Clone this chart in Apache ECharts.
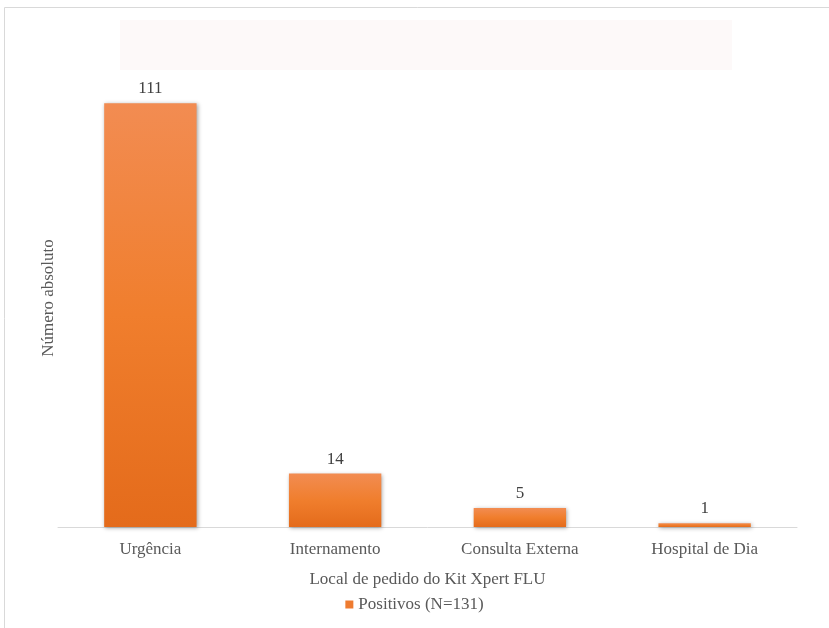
<!DOCTYPE html>
<html>
<head>
<meta charset="utf-8">
<script src="https://cdn.jsdelivr.net/npm/echarts@6/dist/echarts.min.js"></script>
<style>html,body{margin:0;padding:0;background:#fff}#c{width:829px;height:628px}</style>
</head>
<body>
<div id="c"></div>
<script>
const categories = ['Urgência', 'Internamento', 'Consulta Externa', 'Hospital de Dia'];
const seriesName = 'Positivos (N=131)';
const positivos = [111, 14, 5, 1];
const xAxisTitle = 'Local de pedido do Kit Xpert FLU';
const yAxisTitle = 'Número absoluto';

const chart = echarts.init(document.getElementById('c'));
const font = '"Liberation Serif", "Times New Roman", serif';
const txt = '#595959';
chart.setOption({
  animation: false,
  textStyle: { fontFamily: font },
  graphic: [
    { type: 'rect', shape: { x: 4.5, y: 7.5, width: 840, height: 640 }, style: { fill: 'none', stroke: '#d9d9d9', lineWidth: 1 }, silent: true },
    { type: 'rect', shape: { x: 120, y: 20, width: 612, height: 50 }, style: { fill: '#fdf9f9' }, silent: true }
  ],
  grid: { left: 58, right: 32, top: 69, bottom: 101 },
  legend: {
    bottom: 10, left: 'center',
    itemWidth: 8, itemHeight: 8, itemGap: 4,
    icon: 'rect',
    textStyle: { color: txt, fontSize: 17, fontFamily: font },
    data: [{ name: seriesName, itemStyle: { color: '#ee7b30' } }]
  },
  xAxis: {
    type: 'category', data: categories,
    name: xAxisTitle, nameLocation: 'middle', nameGap: 44,
    nameTextStyle: { color: txt, fontSize: 17, fontFamily: font },
    axisLine: { lineStyle: { color: '#d9d9d9', width: 1 } },
    axisTick: { show: false },
    axisLabel: { color: txt, fontSize: 17, margin: 14, fontFamily: font }
  },
  yAxis: {
    type: 'value', min: 0, max: 120,
    name: yAxisTitle, nameLocation: 'middle', nameGap: 1,
    nameTextStyle: { color: txt, fontSize: 17, fontFamily: font },
    axisLine: { show: false }, axisTick: { show: false },
    axisLabel: { show: false }, splitLine: { show: false }
  },
  series: [{
    name: seriesName, type: 'bar', data: positivos, barWidth: '50%',
    itemStyle: {
      color: new echarts.graphic.LinearGradient(0, 0, 0, 1, [
        { offset: 0, color: '#f28c52' },
        { offset: 0.5, color: '#f07e2d' },
        { offset: 1, color: '#e46b1b' }
      ]),
      shadowColor: 'rgba(0,0,0,0.35)', shadowBlur: 4, shadowOffsetX: 1, shadowOffsetY: 1
    },
    label: { show: true, position: 'top', distance: 6, color: '#404040', fontSize: 17, fontFamily: font }
  }]
});
</script>
</body>
</html>
